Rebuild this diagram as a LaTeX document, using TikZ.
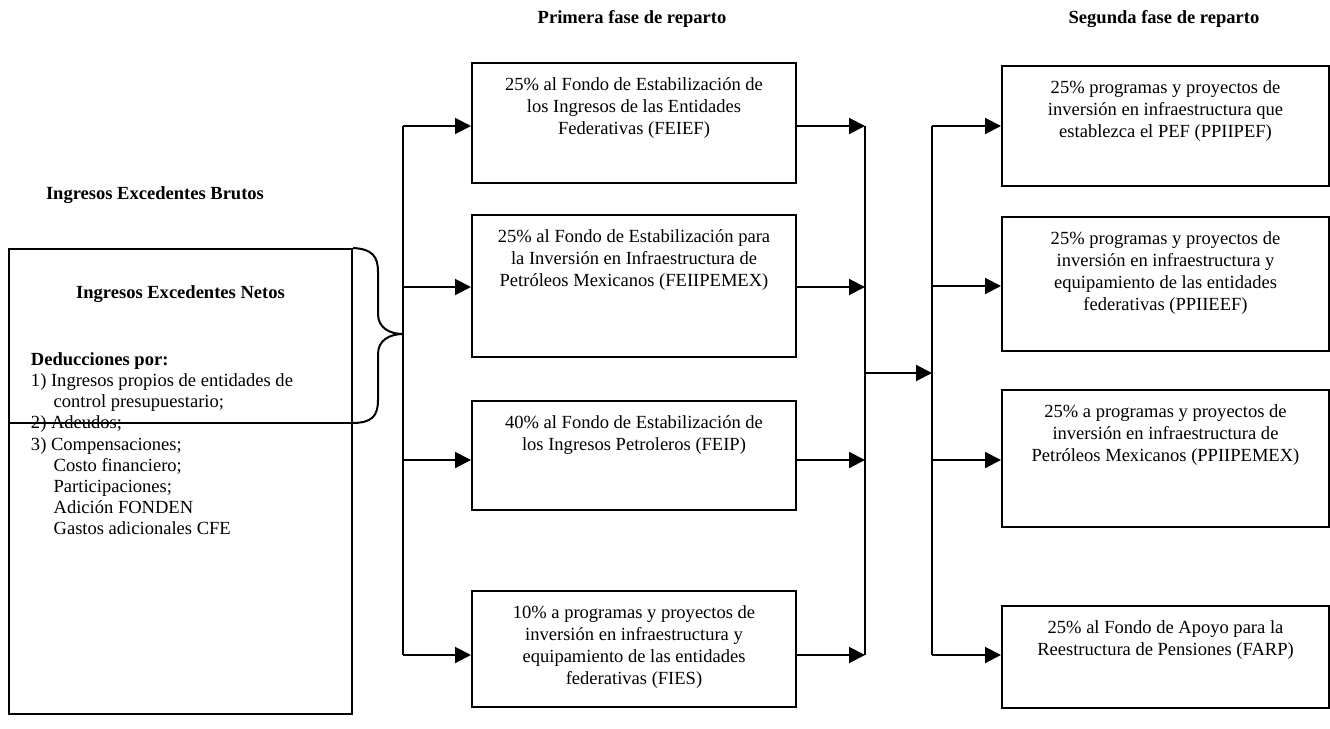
\documentclass[tikz,border=0pt]{standalone}
\usepackage{fontspec}
\setmainfont{Liberation Serif}
\usetikzlibrary{arrows.meta}
\newcommand\myfs{\fontsize{13.9pt}{16.5pt}\selectfont}
\newcommand\mylfs{\fontsize{13.9pt}{15.9pt}\selectfont}
\begin{document}
\begin{tikzpicture}[x=0.75pt,y=-0.75pt,line width=1.5pt,
  box/.style={draw,line width=1.5pt,inner sep=0pt},
  colA/.style={box,minimum width=243pt},
  colB/.style={box,minimum width=245.25pt},
  txt/.style={font=\myfs,align=center,inner sep=0pt,anchor=north},
  ttl/.style={font=\myfs\bfseries,inner sep=0pt,anchor=base},
  arr/.style={-{Triangle[length=12pt,width=12pt]},line width=1.5pt}]
\useasboundingbox (0,0) rectangle (1330,728);

% titles
\node[ttl] (t1) at (632,23) {Primera fase de reparto};
\node[ttl] (t2) at (1164,23) {Segunda fase de reparto};
\node[ttl] (brutos) at (155,199) {Ingresos Excedentes Brutos};

% left box
\node[box,minimum width=257.25pt,minimum height=348.75pt] (lb) at (180.5,481.5) {};
\node[ttl] (netos) at (180.5,298) {Ingresos Excedentes Netos};
\node[font=\mylfs,align=left,inner sep=0pt,anchor=north west] (ded) at (30,351.5)
  {\textbf{Deducciones por:}\\
   1) Ingresos propios de entidades de\\
   \hspace*{17pt}control presupuestario;\\
   2) Adeudos;\\
   3) Compensaciones;\\
   \hspace*{17pt}Costo financiero;\\
   \hspace*{17pt}Participaciones;\\
   \hspace*{17pt}Adición FONDEN\\
   \hspace*{17pt}Gastos adicionales CFE};
\coordinate (nl) at (352,423);
\draw (lb.west |- nl) -- (nl);

% brace
\coordinate (tip) at (403,334);
\draw (lb.north east) .. controls (372,249) and (378,256) .. (378,272)
  -- (378,314) .. controls (378,328) and (390,334) .. (tip)
  .. controls (390,334) and (378,340) .. (378,354)
  -- (378,400) .. controls (378,416) and (372,423) .. (nl);

% first column boxes
\node[colA,minimum height=90pt]    (b1) at (634,123) {};
\node[colA,minimum height=106.5pt] (b2) at (634,286) {};
\node[colA,minimum height=81.75pt] (b3) at (634,455.5) {};
\node[colA,minimum height=87pt]    (b4) at (634,649) {};
\node[txt] (tb1) at ([yshift=-11pt]b1.north) {25\% al Fondo de Estabilización de\\los Ingresos de las Entidades\\Federativas (FEIEF)};
\node[txt] (tb2) at ([yshift=-11pt]b2.north) {25\% al Fondo de Estabilización para\\la Inversión en Infraestructura de\\Petróleos Mexicanos (FEIIPEMEX)};
\node[txt] (tb3) at ([yshift=-11pt]b3.north) {40\% al Fondo de Estabilización de\\los Ingresos Petroleros (FEIP)};
\node[txt] (tb4) at ([yshift=-11pt]b4.north) {10\% a programas y proyectos de\\inversión en infraestructura y\\equipamiento de las entidades\\federativas (FIES)};

% second column boxes
\node[colB,minimum height=90pt]     (c1) at (1165.5,126) {};
\node[colB,minimum height=100.5pt]  (c2) at (1165.5,284) {};
\node[colB,minimum height=102.75pt] (c3) at (1165.5,458.5) {};
\node[colB,minimum height=76.5pt]   (c4) at (1165.5,657) {};
\node[txt] (tc1) at ([yshift=-11pt]c1.north) {25\% programas y proyectos de\\inversión en infraestructura que\\establezca el PEF (PPIIPEF)};
\node[txt] (tc2) at ([yshift=-11pt]c2.north) {25\% programas y proyectos de\\inversión en infraestructura y\\equipamiento de las entidades\\federativas (PPIIEEF)};
\node[txt] (tc3) at ([yshift=-11pt]c3.north) {25\% a programas y proyectos de\\inversión en infraestructura de\\Petróleos Mexicanos (PPIIPEMEX)};
\node[txt] (tc4) at ([yshift=-11pt]c4.north) {25\% al Fondo de Apoyo para la\\Reestructura de Pensiones (FARP)};

% vertical bus lines
\coordinate (v1t) at (403,126); \coordinate (v1b) at (403,655);
\coordinate (v2t) at (865,126); \coordinate (v2b) at (865,655);
\coordinate (v3t) at (932,126); \coordinate (v3b) at (932,655);
\draw (v1t) -- (v1b);
\draw (v2t) -- (v2b);
\draw (v3t) -- (v3b);

% arrows into first column
\coordinate (a1) at (403,126); \coordinate (a2) at (403,287);
\coordinate (a3) at (403,460); \coordinate (a4) at (403,655);
\draw[arr] (a1) -- (a1 -| b1.west);
\draw[arr] (a2) -- (a2 -| b2.west);
\draw[arr] (a3) -- (a3 -| b3.west);
\draw[arr] (a4) -- (a4 -| b4.west);
% arrows out of first column
\draw[arr] (a1 -| b1.east) -- (a1 -| v2t);
\draw[arr] (a2 -| b2.east) -- (a2 -| v2t);
\draw[arr] (a3 -| b3.east) -- (a3 -| v2t);
\draw[arr] (a4 -| b4.east) -- (a4 -| v2t);
% middle arrow
\coordinate (m) at (865,373);
\draw[arr] (m) -- (m -| v3t);
% arrows into second column
\coordinate (d1) at (932,126); \coordinate (d2) at (932,286);
\coordinate (d3) at (932,460); \coordinate (d4) at (932,655);
\draw[arr] (d1) -- (d1 -| c1.west);
\draw[arr] (d2) -- (d2 -| c2.west);
\draw[arr] (d3) -- (d3 -| c3.west);
\draw[arr] (d4) -- (d4 -| c4.west);
\end{tikzpicture}
\end{document}
